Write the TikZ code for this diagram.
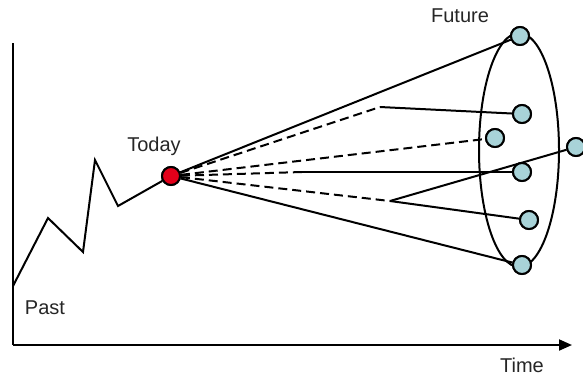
\documentclass[tikz,border=0pt]{standalone}
\usepackage{fontspec}
\setmainfont{Liberation Sans}
\usetikzlibrary{arrows.meta,shapes.geometric}
\definecolor{nowred}{HTML}{E2001A}
\definecolor{futblue}{HTML}{A8D3D8}
\begin{document}
\begin{tikzpicture}[x=1pt,y=-1pt,
  line width=2pt,
  lbl/.style={font=\fontsize{20}{23}\selectfont, anchor=base, inner sep=0pt, text=black!85},
  dot/.style={circle, draw=black, line width=2pt, minimum size=18pt, inner sep=0pt},
  nowdot/.style={dot, fill=nowred},
  futdot/.style={dot, fill=futblue},
  branch/.style={dash pattern=on 9pt off 5pt}]
  \useasboundingbox (0,0) rectangle (583,376);

  % axes
  \coordinate (org) at (13,345);
  \coordinate (ytop) at (13,43);
  \coordinate (xend) at (572,345);
  \draw (ytop) -- (org);
  \draw[-{Triangle[length=13pt,width=11pt]}] (org) -- (xend);

  % the cone of futures
  \node[draw, ellipse, minimum width=80pt, minimum height=234pt, inner sep=0pt, line width=2pt] (cone) at (519,150) {};

  % present and future states
  \node[nowdot] (today) at (171,176) {};
  \node[futdot] (f1) at (520,36) {};
  \node[futdot] (f2) at (522,114) {};
  \node[futdot] (f3) at (495,138) {};
  \node[futdot] (f4) at (576,147) {};
  \node[futdot] (f5) at (522,172) {};
  \node[futdot] (f6) at (529,220) {};
  \node[futdot] (f7) at (522,265) {};

  % past trajectory
  \coordinate (p0) at (13,286);
  \coordinate (p1) at (48,218);
  \coordinate (p2) at (83,252);
  \coordinate (p3) at (95,160);
  \coordinate (p4) at (118,206);
  \draw[line join=miter] (p0) -- (p1) -- (p2) -- (p3) -- (p4) -- (today);

  % branching points
  \coordinate (b1) at (380,107);
  \coordinate (b2) at (302,172);
  \coordinate (b3) at (390,201);
  \coordinate (e3) at (485,139);

  \draw (today) -- (f1);
  \draw (today) -- (f7);
  \draw[branch] (today) -- (b1);
  \draw (b1) -- (f2);
  \draw[branch] (today) -- (e3);
  \draw[branch] (today) -- (b2);
  \draw (b2) -- (f5);
  \draw[branch] (today) -- (b3);
  \draw (b3) -- (f6);
  \draw (b3) -- (f4);

  % redraw the dots above the lines
  \node[nowdot] at (today) {};
  \foreach \f in {f1,f2,f3,f4,f5,f6,f7} \node[futdot] at (\f) {};

  % labels
  \node[lbl] (past) at (45,314) {Past};
  \node[lbl] (now) at (154,151) {Today};
  \node[lbl] (fut) at (460,22) {Future};
  \node[lbl] (time) at (522,372) {Time};
\end{tikzpicture}
\end{document}
